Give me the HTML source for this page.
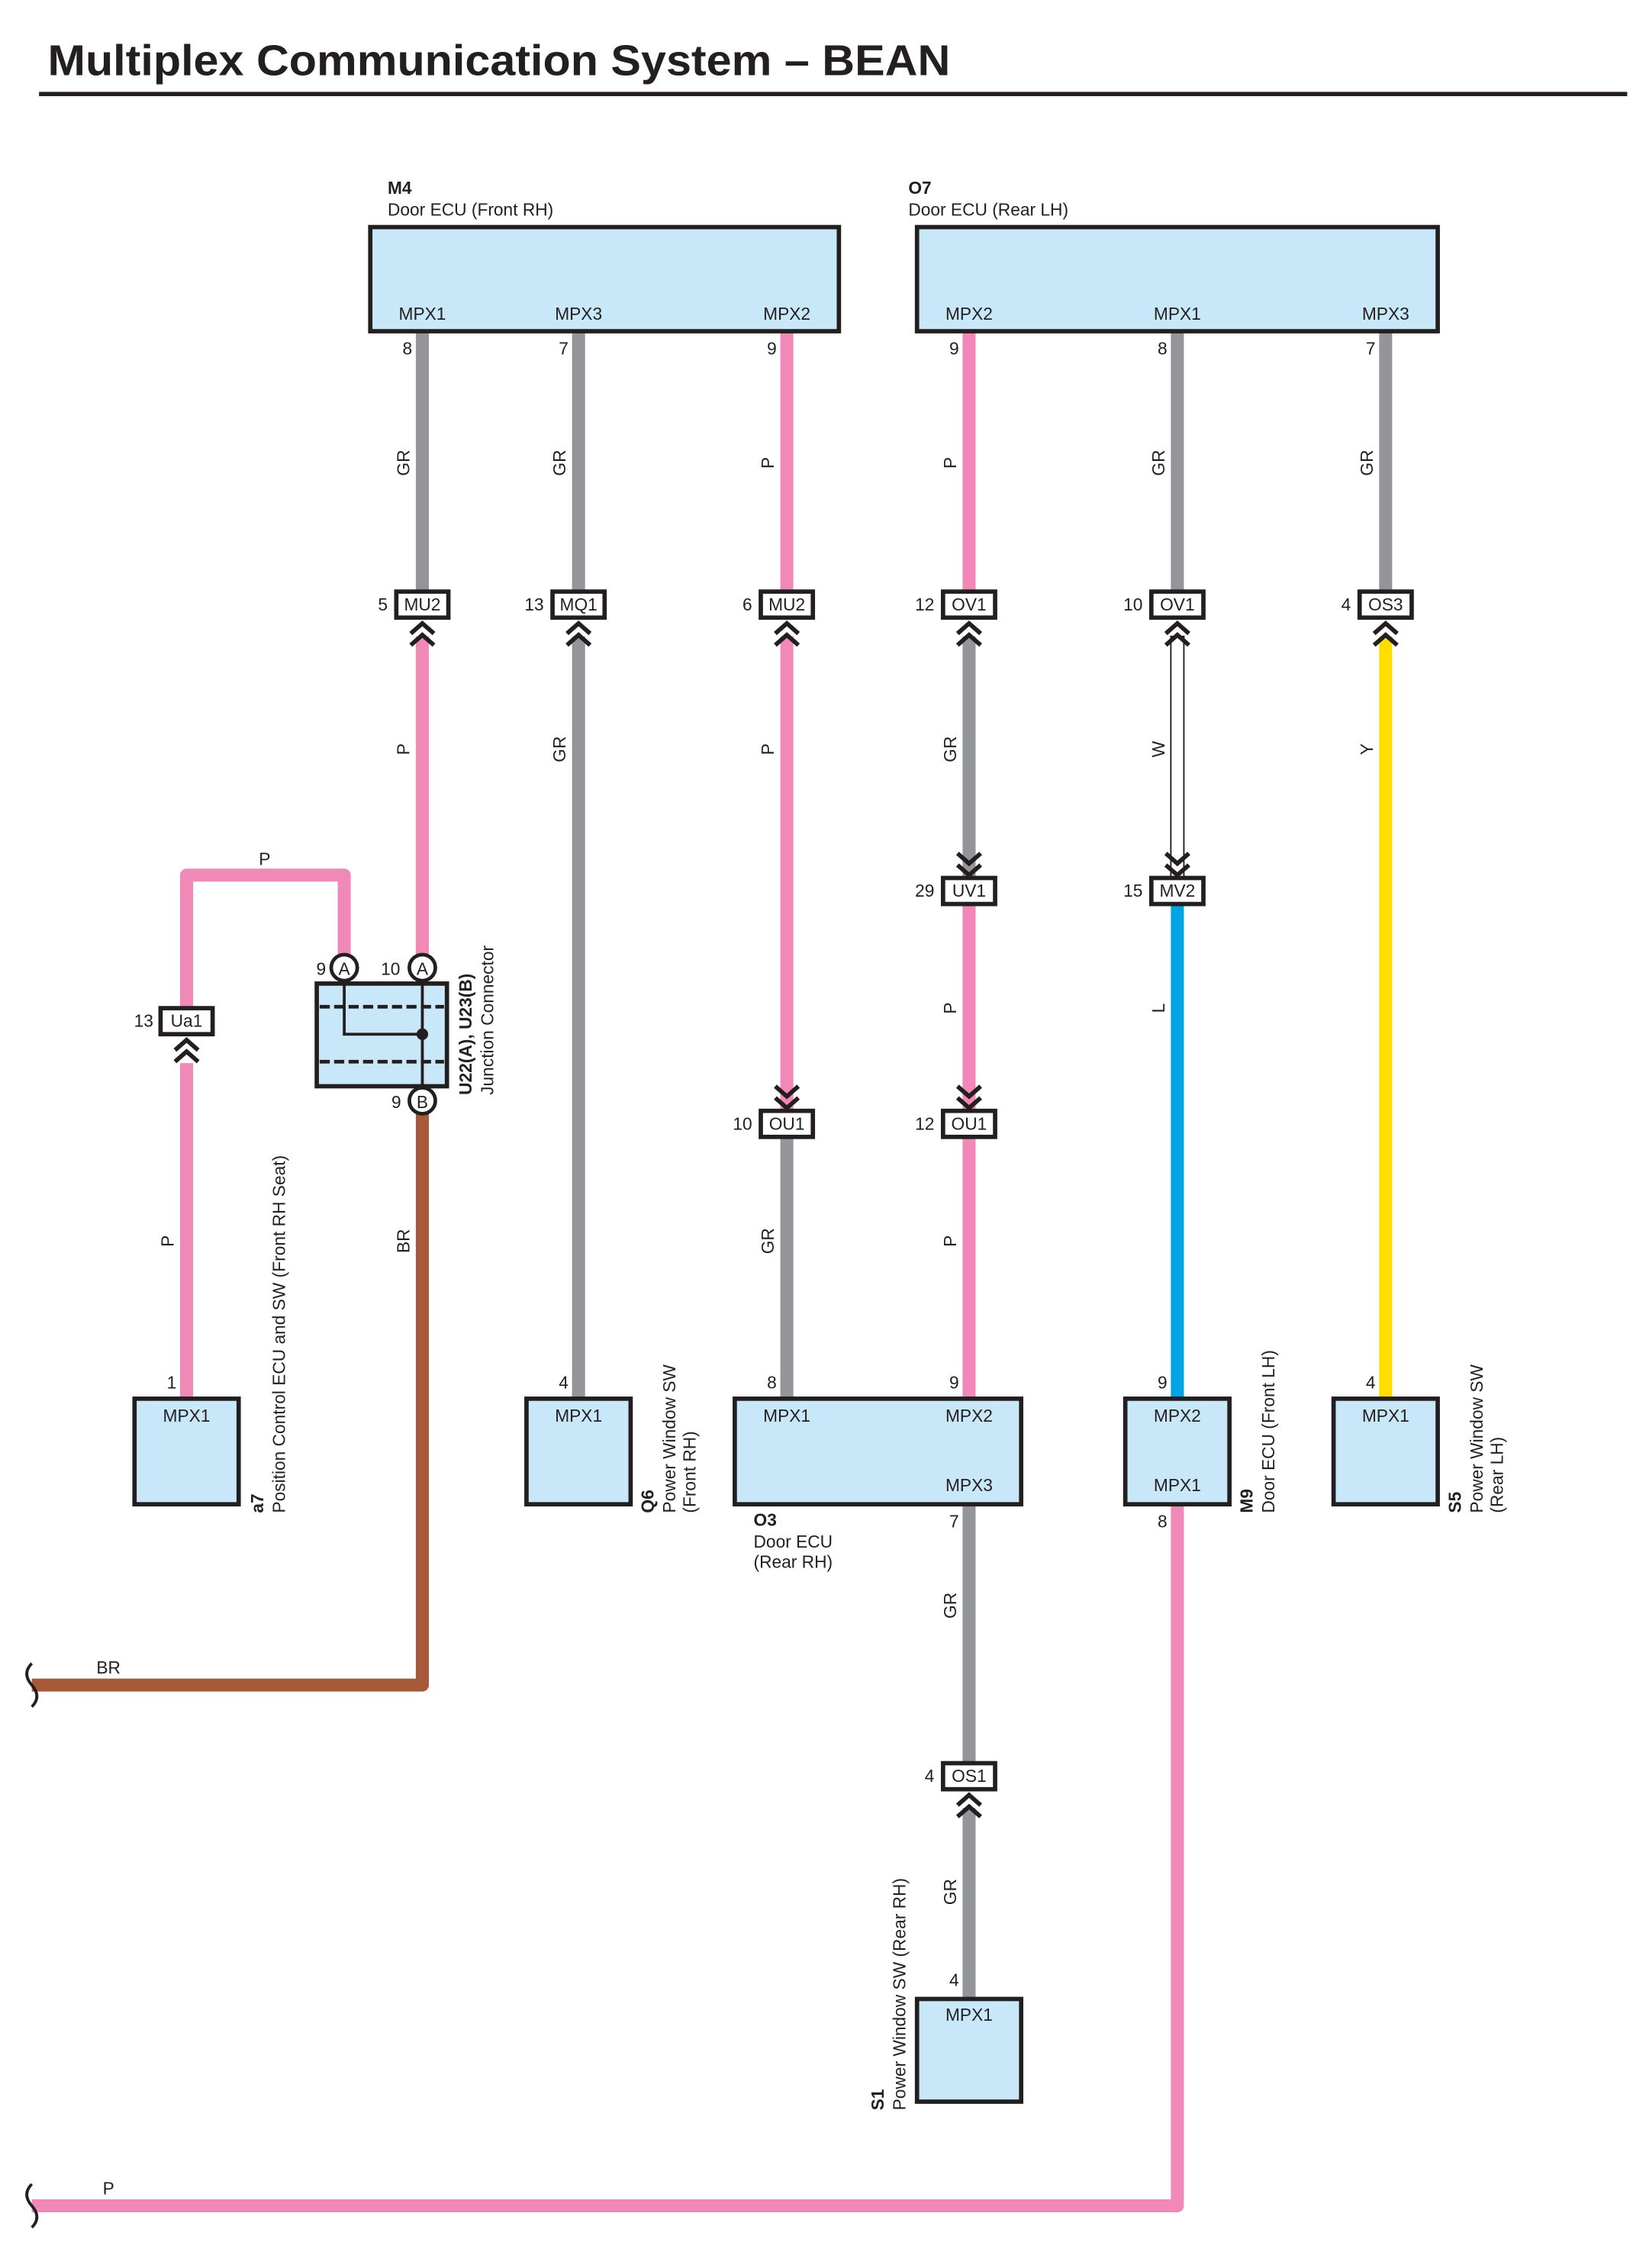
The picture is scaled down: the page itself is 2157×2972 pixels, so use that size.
<!DOCTYPE html>
<html><head><meta charset="utf-8"><style>
html,body{margin:0;padding:0;background:#fff}
svg{display:block}
text{font-family:"Liberation Sans",Arial,sans-serif;fill:#231f20}
.t{font-size:12px}
.box{fill:#c8e8fa;stroke:#231f20;stroke-width:3}
.cn{fill:#fff;stroke:#231f20;stroke-width:3}
.ch{fill:none;stroke:#231f20;stroke-width:3}
.w{fill:none;stroke-width:9;stroke-linejoin:round}
.gr{stroke:#939598}.p{stroke:#f088b8}.br{stroke:#a65a3a}.l{stroke:#00a4e4}.y{stroke:#ffdd00}
</style></head><body>
<svg width="2157" height="2972" viewBox="0 0 1138 1568" preserveAspectRatio="none" xmlns="http://www.w3.org/2000/svg">
<text x="33" y="52" font-size="30" style="font-weight:bold" textLength="624" lengthAdjust="spacingAndGlyphs">Multiplex Communication System – BEAN</text>
<line x1="27" y1="65" x2="1125" y2="65" stroke="#231f20" stroke-width="3"/>

<path class="w gr" d="M292,229V408"/>
<path class="w p" d="M292,440V662"/>
<path class="w p" d="M238,660V605H129V697"/>
<path class="w p" d="M129,735V967"/>
<path class="w br" d="M292,770V1165H22"/>
<path class="w gr" d="M400,229V408"/>
<path class="w gr" d="M400,440V967"/>
<path class="w p" d="M544,229V408"/>
<path class="w p" d="M544,440V768"/>
<path class="w gr" d="M544,786V967"/>
<path class="w p" d="M670,229V408"/>
<path class="w gr" d="M670,440V607"/>
<path class="w p" d="M670,625V768"/>
<path class="w p" d="M670,786V967"/>
<path class="w gr" d="M670,1040V1219"/>
<path class="w gr" d="M670,1250V1382"/>
<path class="w gr" d="M814,229V408"/>
<rect x="809.5" y="440" width="9" height="167" fill="#fff" stroke="#231f20" stroke-width="1"/>
<path class="w l" d="M814,625V967"/>
<path class="w p" d="M814,1040V1525H22"/>
<path class="w gr" d="M958,229V408"/>
<path class="w y" d="M958,440V967"/>
<path d="M22,1150q-7,7 0,15q7,8 0,15" fill="none" stroke="#231f20" stroke-width="2"/>
<path d="M22,1510q-7,7 0,15q7,8 0,15" fill="none" stroke="#231f20" stroke-width="2"/>

<rect class="box" x="256" y="157" width="324" height="72"/>
<text class="t" x="268" y="134" style="font-weight:bold">M4</text>
<text class="t" x="268" y="149">Door ECU (Front RH)</text>
<text class="t" x="292" y="221" text-anchor="middle">MPX1</text>
<text class="t" x="400" y="221" text-anchor="middle">MPX3</text>
<text class="t" x="544" y="221" text-anchor="middle">MPX2</text>
<text class="t" x="285" y="245" text-anchor="end">8</text>
<text class="t" x="393" y="245" text-anchor="end">7</text>
<text class="t" x="537" y="245" text-anchor="end">9</text>

<rect class="box" x="634" y="157" width="360" height="72"/>
<text class="t" x="628" y="134" style="font-weight:bold">O7</text>
<text class="t" x="628" y="149">Door ECU (Rear LH)</text>
<text class="t" x="670" y="221" text-anchor="middle">MPX2</text>
<text class="t" x="814" y="221" text-anchor="middle">MPX1</text>
<text class="t" x="958" y="221" text-anchor="middle">MPX3</text>
<text class="t" x="663" y="245" text-anchor="end">9</text>
<text class="t" x="807" y="245" text-anchor="end">8</text>
<text class="t" x="951" y="245" text-anchor="end">7</text>

<g class="t" text-anchor="middle">
<text transform="translate(283,320) rotate(-90)">GR</text>
<text transform="translate(391,320) rotate(-90)">GR</text>
<text transform="translate(535,320) rotate(-90)">P</text>
<text transform="translate(661,320) rotate(-90)">P</text>
<text transform="translate(805,320) rotate(-90)">GR</text>
<text transform="translate(949,320) rotate(-90)">GR</text>
<text transform="translate(283,518) rotate(-90)">P</text>
<text transform="translate(391,518) rotate(-90)">GR</text>
<text transform="translate(535,518) rotate(-90)">P</text>
<text transform="translate(661,518) rotate(-90)">GR</text>
<text transform="translate(805,518) rotate(-90)">W</text>
<text transform="translate(949,518) rotate(-90)">Y</text>
<text transform="translate(661,697) rotate(-90)">P</text>
<text transform="translate(805,697) rotate(-90)">L</text>
<text transform="translate(120,858) rotate(-90)">P</text>
<text transform="translate(283,858) rotate(-90)">BR</text>
<text transform="translate(535,858) rotate(-90)">GR</text>
<text transform="translate(661,858) rotate(-90)">P</text>
<text transform="translate(661,1110) rotate(-90)">GR</text>
<text transform="translate(661,1308) rotate(-90)">GR</text>
<text x="183" y="598">P</text>
<text x="75" y="1157">BR</text>
<text x="75" y="1517">P</text>
</g>

<g class="t">
<rect class="cn" x="274" y="409" width="36" height="18"/><text x="292" y="422" text-anchor="middle">MU2</text><text x="268" y="422" text-anchor="end">5</text>
<rect class="cn" x="382" y="409" width="36" height="18"/><text x="400" y="422" text-anchor="middle">MQ1</text><text x="376" y="422" text-anchor="end">13</text>
<rect class="cn" x="526" y="409" width="36" height="18"/><text x="544" y="422" text-anchor="middle">MU2</text><text x="520" y="422" text-anchor="end">6</text>
<rect class="cn" x="652" y="409" width="36" height="18"/><text x="670" y="422" text-anchor="middle">OV1</text><text x="646" y="422" text-anchor="end">12</text>
<rect class="cn" x="796" y="409" width="36" height="18"/><text x="814" y="422" text-anchor="middle">OV1</text><text x="790" y="422" text-anchor="end">10</text>
<rect class="cn" x="940" y="409" width="36" height="18"/><text x="958" y="422" text-anchor="middle">OS3</text><text x="934" y="422" text-anchor="end">4</text>
<rect class="cn" x="652" y="607" width="36" height="18"/><text x="670" y="620" text-anchor="middle">UV1</text><text x="646" y="620" text-anchor="end">29</text>
<rect class="cn" x="796" y="607" width="36" height="18"/><text x="814" y="620" text-anchor="middle">MV2</text><text x="790" y="620" text-anchor="end">15</text>
<rect class="cn" x="526" y="768" width="36" height="18"/><text x="544" y="781" text-anchor="middle">OU1</text><text x="520" y="781" text-anchor="end">10</text>
<rect class="cn" x="652" y="768" width="36" height="18"/><text x="670" y="781" text-anchor="middle">OU1</text><text x="646" y="781" text-anchor="end">12</text>
<rect class="cn" x="111" y="697" width="36" height="18"/><text x="129" y="710" text-anchor="middle">Ua1</text><text x="106" y="710" text-anchor="end">13</text>
<rect class="cn" x="652" y="1219" width="36" height="18"/><text x="670" y="1232" text-anchor="middle">OS1</text><text x="646" y="1232" text-anchor="end">4</text>
</g>
<g class="ch">
<path d="M284,438l8,-7l8,7M284,446l8,-7l8,7"/>
<path d="M392,438l8,-7l8,7M392,446l8,-7l8,7"/>
<path d="M536,438l8,-7l8,7M536,446l8,-7l8,7"/>
<path d="M662,438l8,-7l8,7M662,446l8,-7l8,7"/>
<path d="M806,438l8,-7l8,7M806,446l8,-7l8,7"/>
<path d="M950,438l8,-7l8,7M950,446l8,-7l8,7"/>
<path d="M121,726l8,-7l8,7M121,734l8,-7l8,7"/>
<path d="M662,1248l8,-7l8,7M662,1256l8,-7l8,7"/>
<path d="M662,590l8,7l8,-7M662,598l8,7l8,-7"/>
<path d="M806,590l8,7l8,-7M806,598l8,7l8,-7"/>
<path d="M536,751l8,7l8,-7M536,759l8,7l8,-7"/>
<path d="M662,751l8,7l8,-7M662,759l8,7l8,-7"/>
</g>

<rect class="box" x="219" y="680" width="90" height="71"/>
<line x1="221" y1="696" x2="307" y2="696" stroke="#231f20" stroke-width="2.5" stroke-dasharray="7,3"/>
<line x1="221" y1="734" x2="307" y2="734" stroke="#231f20" stroke-width="2.5" stroke-dasharray="7,3"/>
<path d="M238,678V715H292M292,678V752" fill="none" stroke="#231f20" stroke-width="2"/>
<circle cx="292" cy="715" r="4" fill="#231f20"/>
<g class="t" text-anchor="middle">
<circle cx="238" cy="669" r="9" fill="#fff" stroke="#231f20" stroke-width="2.5"/><text x="238" y="674">A</text>
<circle cx="292" cy="669" r="9" fill="#fff" stroke="#231f20" stroke-width="2.5"/><text x="292" y="674">A</text>
<circle cx="292" cy="761" r="9" fill="#fff" stroke="#231f20" stroke-width="2.5"/><text x="292" y="766">B</text>
<text x="222" y="674">9</text><text x="270" y="674">10</text><text x="274" y="766">9</text>
</g>
<g class="t">
<text transform="translate(326,757) rotate(-90)" style="font-weight:bold">U22(A), U23(B)</text>
<text transform="translate(341,757) rotate(-90)">Junction Connector</text>
</g>

<rect class="box" x="93" y="967" width="72" height="73"/>
<text class="t" x="129" y="983" text-anchor="middle">MPX1</text>
<text class="t" x="122" y="960" text-anchor="end">1</text>
<text class="t" transform="translate(182,1046) rotate(-90)" style="font-weight:bold">a7</text>
<text class="t" transform="translate(197,1046) rotate(-90)">Position Control ECU and SW (Front RH Seat)</text>

<rect class="box" x="364" y="967" width="72" height="73"/>
<text class="t" x="400" y="983" text-anchor="middle">MPX1</text>
<text class="t" x="393" y="960" text-anchor="end">4</text>
<text class="t" transform="translate(452,1046) rotate(-90)" style="font-weight:bold">Q6</text>
<text class="t" transform="translate(467,1046) rotate(-90)">Power Window SW</text>
<text class="t" transform="translate(481,1046) rotate(-90)">(Front RH)</text>

<rect class="box" x="508" y="967" width="198" height="73"/>
<text class="t" x="544" y="983" text-anchor="middle">MPX1</text>
<text class="t" x="670" y="983" text-anchor="middle">MPX2</text>
<text class="t" x="670" y="1031" text-anchor="middle">MPX3</text>
<text class="t" x="537" y="960" text-anchor="end">8</text>
<text class="t" x="663" y="960" text-anchor="end">9</text>
<text class="t" x="663" y="1056" text-anchor="end">7</text>
<text class="t" x="521" y="1055" style="font-weight:bold">O3</text>
<text class="t" x="521" y="1070">Door ECU</text>
<text class="t" x="521" y="1084">(Rear RH)</text>

<rect class="box" x="778" y="967" width="72" height="73"/>
<text class="t" x="814" y="983" text-anchor="middle">MPX2</text>
<text class="t" x="814" y="1031" text-anchor="middle">MPX1</text>
<text class="t" x="807" y="960" text-anchor="end">9</text>
<text class="t" x="807" y="1056" text-anchor="end">8</text>
<text class="t" transform="translate(866,1046) rotate(-90)" style="font-weight:bold">M9</text>
<text class="t" transform="translate(881,1046) rotate(-90)">Door ECU (Front LH)</text>

<rect class="box" x="922" y="967" width="72" height="73"/>
<text class="t" x="958" y="983" text-anchor="middle">MPX1</text>
<text class="t" x="951" y="960" text-anchor="end">4</text>
<text class="t" transform="translate(1010,1046) rotate(-90)" style="font-weight:bold">S5</text>
<text class="t" transform="translate(1025,1046) rotate(-90)">Power Window SW</text>
<text class="t" transform="translate(1039,1046) rotate(-90)">(Rear LH)</text>

<rect class="box" x="634" y="1382" width="72" height="71"/>
<text class="t" x="670" y="1397" text-anchor="middle">MPX1</text>
<text class="t" x="663" y="1373" text-anchor="end">4</text>
<text class="t" transform="translate(611,1459) rotate(-90)" style="font-weight:bold">S1</text>
<text class="t" transform="translate(626,1459) rotate(-90)">Power Window SW (Rear RH)</text>
</svg>
</body></html>
